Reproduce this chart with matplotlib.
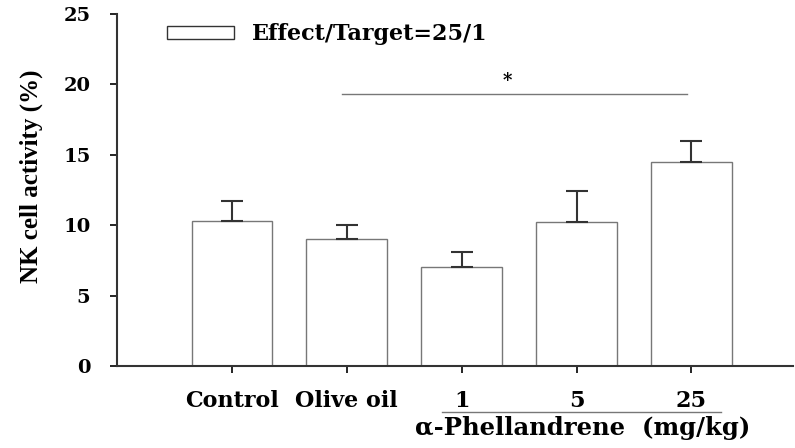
import matplotlib
matplotlib.use("Agg")
import matplotlib.pyplot as plt
from matplotlib.patches import Patch

plt.rcParams['font.family'] = ['DejaVu Serif']
plt.rcParams['font.weight'] = 'bold'

groups = ["Control", "Olive oil", "1", "5", "25"]
activity = [10.3, 9.0, 7.0, 10.2, 14.5]
sem = [1.4, 1.0, 1.1, 2.2, 1.5]
legend_label = "Effect/Target=25/1"

fig = plt.figure(figsize=(7.95, 4.48), dpi=100)
ax = fig.add_axes([0.147, 0.183, 0.85, 0.786])

pos = list(range(len(groups)))
ax.bar(pos, activity, width=0.7, color="white", edgecolor="#777777", linewidth=1.0)
ax.errorbar(pos, activity, yerr=[[0] * len(sem), sem], fmt="none", ecolor="#333333",
            elinewidth=1.5, capsize=8, capthick=1.5)

ax.set_xlim(-1.0, 4.88)
ax.set_ylim(0, 25)
ax.set_yticks([0, 5, 10, 15, 20, 25])
ax.set_xticks(pos)
ax.set_xticklabels(groups, fontsize=16, fontweight="bold")
ax.tick_params(axis="y", labelsize=14, direction="out", length=5, width=1.2, pad=14)
ax.tick_params(axis="x", direction="out", length=5, width=1.2, pad=12)
for lab in ax.get_yticklabels():
    lab.set_fontweight("bold")
ax.spines["top"].set_visible(False)
ax.spines["right"].set_visible(False)
for side in ["left", "bottom"]:
    ax.spines[side].set_linewidth(1.5)
    ax.spines[side].set_color("#333333")
ax.set_ylabel("NK cell activity (%)", fontsize=18, fontweight="bold",
              family="Liberation Serif")
ax.yaxis.set_label_coords(-0.11, 0.54)

# significance bar
ax.plot([0.96, 3.96], [19.3, 19.3], color="#777777", linewidth=1.0)
ax.text(2.4, 19.6, "*", ha="center", va="bottom", fontsize=13, fontweight="bold")

# group label under the dose ticks
ax.plot([1.83, 4.26], [-3.25, -3.25], color="#777777", linewidth=1.0, clip_on=False)
ax.text(3.05, -4.4, "\u03b1-Phellandrene  (mg/kg)", ha="center", va="center",
        fontsize=17.5, fontweight="bold", clip_on=False)

ax.legend(handles=[Patch(facecolor="white", edgecolor="#333333", linewidth=1.0,
                         label=legend_label)],
          loc="upper left", bbox_to_anchor=(0.045, 1.03), frameon=False,
          fontsize=16, handlelength=3.0, handleheight=0.5, handletextpad=0.8)

fig.savefig("out.png", dpi=100)
